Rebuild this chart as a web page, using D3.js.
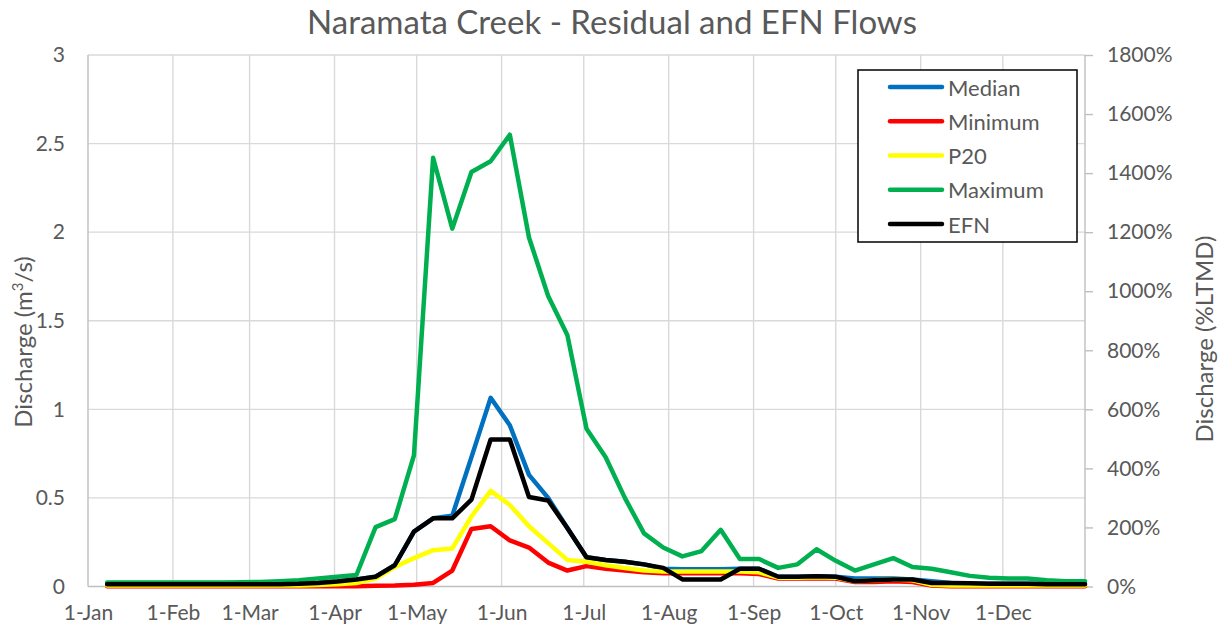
<!DOCTYPE html>
<html>
<head>
<meta charset="utf-8">
<script src="https://cdn.jsdelivr.net/npm/d3@7"></script>
<style>
  html, body { margin: 0; padding: 0; background: #ffffff; }
  svg { display: block; font-family: Lato, "Open Sans", sans-serif; }
</style>
</head>
<body>
<svg id="chart" width="1224" height="631"></svg>
<script>
// ---------------- DATA ----------------
const title = "Naramata Creek - Residual and EFN Flows";
const monthLabels = ["1-Jan","1-Feb","1-Mar","1-Apr","1-May","1-Jun","1-Jul","1-Aug","1-Sep","1-Oct","1-Nov","1-Dec"];
const leftTicks = [0, 0.5, 1, 1.5, 2, 2.5, 3];
const rightTicks = [0, 200, 400, 600, 800, 1000, 1200, 1400, 1600, 1800];
const seriesNames = ["Median", "Minimum", "P20", "Maximum", "EFN"];
const seriesColors = ["#0070C0", "#FF0000", "#FFFF00", "#00B050", "#000000"];
// weekly values (52 weeks, 8-Jan ... 31-Dec)
const median = [0.013,0.013,0.013,0.013,0.013,0.013,0.013,0.013,0.013,0.013,0.015,0.02,0.028,0.04,0.055,0.12,0.31,0.385,0.40,0.73,1.065,0.91,0.63,0.50,0.33,0.165,0.15,0.14,0.125,0.10,0.097,0.097,0.097,0.10,0.10,0.055,0.055,0.058,0.055,0.045,0.045,0.045,0.04,0.03,0.02,0.015,0.015,0.015,0.015,0.015,0.015,0.015];
const minimum = [0.002,0.002,0.002,0.002,0.002,0.002,0.002,0.002,0.002,0.002,0.002,0.002,0.002,0.002,0.004,0.005,0.01,0.02,0.09,0.325,0.34,0.26,0.22,0.135,0.09,0.115,0.10,0.09,0.08,0.075,0.075,0.075,0.075,0.075,0.07,0.045,0.045,0.045,0.045,0.025,0.025,0.03,0.025,0.005,0.002,0.002,0.002,0.002,0.002,0.002,0.002,0.002];
const p20 = [0.005,0.005,0.005,0.005,0.005,0.005,0.005,0.005,0.005,0.005,0.005,0.008,0.012,0.02,0.045,0.11,0.16,0.205,0.215,0.395,0.54,0.46,0.34,0.245,0.15,0.14,0.12,0.105,0.09,0.085,0.085,0.085,0.085,0.085,0.08,0.05,0.05,0.052,0.05,0.03,0.035,0.04,0.035,0.01,0.005,0.005,0.005,0.005,0.005,0.005,0.005,0.005];
const maximum = [0.022,0.022,0.022,0.022,0.022,0.022,0.022,0.024,0.026,0.03,0.036,0.045,0.055,0.065,0.335,0.38,0.74,2.42,2.02,2.34,2.40,2.55,1.97,1.64,1.42,0.89,0.73,0.50,0.30,0.22,0.17,0.20,0.32,0.155,0.155,0.105,0.125,0.21,0.145,0.09,0.125,0.16,0.11,0.10,0.08,0.06,0.05,0.045,0.045,0.035,0.03,0.03];
const efn = [0.013,0.013,0.013,0.013,0.013,0.013,0.013,0.013,0.013,0.013,0.015,0.02,0.028,0.04,0.055,0.12,0.31,0.385,0.385,0.49,0.83,0.83,0.505,0.485,0.33,0.165,0.15,0.14,0.125,0.105,0.04,0.04,0.04,0.10,0.10,0.055,0.055,0.058,0.055,0.03,0.035,0.04,0.04,0.02,0.02,0.018,0.015,0.015,0.015,0.013,0.013,0.013];
const seriesValues = [median, minimum, p20, maximum, efn];

// ---------------- LAYOUT ----------------
const svg = d3.select("#chart");
const W = 1224, H = 631;
const plot = { left: 88, right: 1085, top: 55, bottom: 586.5 };
const textColor = "#595959";
const gridColor = "#d9d9d9";
const axisColor = "#bfbfbf";
const tickFont = "21px";

const year = 2021;
const monthDates = monthLabels.map((_, i) => new Date(year, i, 1));
const weekDates = d3.range(52).map(k => new Date(year, 0, 8 + 7 * k));

const x = d3.scaleTime()
  .domain([new Date(year, 0, 1), new Date(year, 11, 31)])
  .range([plot.left, plot.right]);
const y = d3.scaleLinear().domain([0, 3]).range([plot.bottom, plot.top]);
const yR = d3.scaleLinear().domain([0, 1800]).range([plot.bottom, plot.top]);

// horizontal gridlines
svg.append("g")
  .selectAll("line").data(leftTicks.filter(d => d > 0)).join("line")
  .attr("x1", plot.left).attr("x2", plot.right)
  .attr("y1", d => y(d)).attr("y2", d => y(d))
  .attr("stroke", gridColor).attr("stroke-width", 1.4);

// vertical gridlines
svg.append("g")
  .selectAll("line").data(monthDates.slice(1)).join("line")
  .attr("x1", d => x(d)).attr("x2", d => x(d))
  .attr("y1", plot.top).attr("y2", plot.bottom)
  .attr("stroke", gridColor).attr("stroke-width", 1.4);

// axis lines
const axesG = svg.append("g");
axesG.append("line").attr("x1", plot.left).attr("x2", plot.left)
  .attr("y1", plot.top).attr("y2", plot.bottom).attr("stroke", axisColor).attr("stroke-width", 1.4);
axesG.append("line").attr("x1", plot.right).attr("x2", plot.right)
  .attr("y1", plot.top).attr("y2", plot.bottom).attr("stroke", axisColor).attr("stroke-width", 1.4);
axesG.append("line").attr("x1", plot.left).attr("x2", plot.right)
  .attr("y1", plot.bottom).attr("y2", plot.bottom).attr("stroke", axisColor).attr("stroke-width", 1.4);

// left axis labels
const leftAxis = d3.axisLeft(y).tickValues(leftTicks).tickSize(0).tickPadding(23)
  .tickFormat(d => d3.format("~g")(d));
const gl = svg.append("g").attr("transform", `translate(${plot.left},0)`).call(leftAxis);
gl.select(".domain").remove();
gl.selectAll("text").attr("fill", textColor).style("font-size", tickFont).style("font-family", "Lato, sans-serif");

// right axis
const rightAxis = d3.axisRight(yR).tickValues(rightTicks).tickSize(8).tickPadding(14)
  .tickFormat(d => d + "%");
const gr = svg.append("g").attr("transform", `translate(${plot.right},0)`).call(rightAxis);
gr.select(".domain").remove();
gr.selectAll("line").attr("stroke", axisColor).attr("stroke-width", 1.4);
gr.selectAll("text").attr("fill", textColor).style("font-size", tickFont).style("font-family", "Lato, sans-serif");

// bottom axis
const bottomAxis = d3.axisBottom(x).tickValues(monthDates).tickSize(0).tickPadding(19)
  .tickFormat((d, i) => monthLabels[i]);
const gb = svg.append("g").attr("transform", `translate(0,${plot.bottom})`).call(bottomAxis);
gb.select(".domain").remove();
gb.selectAll("text").attr("fill", textColor).style("font-size", tickFont).style("font-family", "Lato, sans-serif");

// series lines
const line = d3.line().x((d, i) => x(weekDates[i])).y(d => y(d));
const linesG = svg.append("g");
seriesValues.forEach((vals, si) => {
  linesG.append("path").datum(vals)
    .attr("d", line)
    .attr("fill", "none")
    .attr("stroke", seriesColors[si])
    .attr("stroke-width", 4.5)
    .attr("stroke-linejoin", "round")
    .attr("stroke-linecap", "round");
});

// title
svg.append("text")
  .attr("x", W / 2).attr("y", 34)
  .attr("text-anchor", "middle")
  .attr("fill", textColor)
  .style("font-size", "33px")
  .text(title);

// axis titles
const lt = svg.append("text")
  .attr("transform", `translate(32,342) rotate(-90)`)
  .attr("text-anchor", "middle")
  .attr("fill", textColor)
  .style("font-size", "24px");
lt.append("tspan").text("Discharge (m");
lt.append("tspan").attr("baseline-shift", "super").style("font-size", "15px").text("3");
lt.append("tspan").text("/s)");

svg.append("text")
  .attr("transform", `translate(1213,339) rotate(-90)`)
  .attr("text-anchor", "middle")
  .attr("fill", textColor)
  .style("font-size", "24px")
  .text("Discharge (%LTMD)");

// legend
const lg = svg.append("g");
lg.append("rect").attr("x", 858).attr("y", 70).attr("width", 219).attr("height", 172)
  .attr("fill", "#ffffff").attr("stroke", "#000000").attr("stroke-width", 1.5);
const legendRow = d3.scaleLinear().domain([0, 4]).range([87, 224]);
seriesNames.forEach((name, i) => {
  lg.append("line").attr("x1", 890).attr("x2", 942)
    .attr("y1", legendRow(i)).attr("y2", legendRow(i))
    .attr("stroke", seriesColors[i]).attr("stroke-width", 4.5).attr("stroke-linecap", "round");
  lg.append("text").attr("x", 948).attr("y", legendRow(i))
    .attr("dominant-baseline", "central")
    .attr("fill", textColor).style("font-size", "22px")
    .text(name);
});
</script>
</body>
</html>
